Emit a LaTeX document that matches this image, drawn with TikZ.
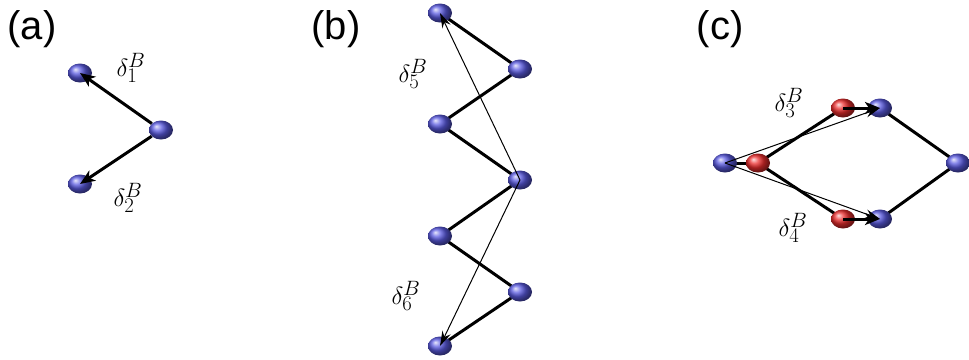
\documentclass[tikz,border=0pt]{standalone}
\usepackage{fontspec}
\newfontfamily\panelfont{Liberation Sans}
\usetikzlibrary{shapes.geometric,arrows.meta}
\pgfdeclarelayer{background}
\pgfsetlayers{background,main}
\definecolor{bluenode}{RGB}{90,90,225}
\definecolor{rednode}{RGB}{235,45,45}
\tikzset{
  atom/.style={ellipse, minimum width=24pt, minimum height=19pt, inner sep=0pt},
  batom/.style={atom, ball color=bluenode},
  ratom/.style={atom, ball color=rednode},
  bond/.style={line width=3pt},
  bigarrow/.style={line width=3pt, -{Stealth[length=15pt,width=12pt,inset=4pt]}},
  thinarrow/.style={line width=1pt, -{Stealth[length=15pt,width=9pt,inset=5pt]}},
  panel/.style={font=\panelfont\fontsize{40}{46}\selectfont},
  dlabel/.style={font=\fontsize{31}{36}\selectfont}
}
\begin{document}
\begin{tikzpicture}[x=1pt,y=-1pt]
\useasboundingbox (0,0) rectangle (969,359);
% panel labels
\node[panel] (la) at (32,29) {(a)};
\node[panel] (lb) at (336,29) {(b)};
\node[panel] (lc) at (720,29) {(c)};
% (a)
\node[batom] (a1) at (80,73) {};
\node[batom] (a0) at (161,130) {};
\node[batom] (a2) at (80,184) {};
\draw[bigarrow] (a0) -- (a1.center);
\draw[bigarrow] (a0) -- (a2.center);
\node[dlabel] (d1) at (131,68) {$\delta_1^B$};
\node[dlabel] (d2) at (128,198) {$\delta_2^B$};
% (b)
\node[batom] (b1) at (440,13) {};
\node[batom] (b2) at (520,69) {};
\node[batom] (b3) at (440,124) {};
\node[batom] (b4) at (520,180) {};
\node[batom] (b5) at (440,236) {};
\node[batom] (b6) at (520,292) {};
\node[batom] (b7) at (440,346) {};
\begin{pgfonlayer}{background}
\draw[bond] (b1.center) -- (b2.center) -- (b3.center) -- (b4.center) -- (b5.center) -- (b6.center) -- (b7.center);
\end{pgfonlayer}
\draw[thinarrow] (b4.center) -- (b1.center);
\draw[thinarrow] (b4.center) -- (b7.center);
\node[dlabel] (d5) at (413,74) {$\delta_5^B$};
\node[dlabel] (d6) at (406,296) {$\delta_6^B$};
% (c)
\node[batom] (c0) at (725,163) {};
\node[ratom] (c1) at (758,163) {};
\node[ratom] (c2) at (843,108) {};
\node[batom] (c3) at (880,108) {};
\node[batom] (c4) at (958,163) {};
\node[ratom] (c5) at (843,219) {};
\node[batom] (c6) at (880,219) {};
\begin{pgfonlayer}{background}
\draw[bond] (c0.center) -- (c1.center);
\draw[bond] (c1.center) -- (c2.center);
\draw[bond] (c1.center) -- (c5.center);
\draw[bond] (c3.center) -- (c4.center) -- (c6.center);
\end{pgfonlayer}
\draw[bigarrow] (c2.center) -- (c3.center);
\draw[bigarrow] (c5.center) -- (c6.center);
\draw[thinarrow] (c0.center) -- (c3.center);
\draw[thinarrow] (c0.center) -- (c6.center);
\node[dlabel] (d3) at (789,103) {$\delta_3^B$};
\node[dlabel] (d4) at (793,228) {$\delta_4^B$};
\end{tikzpicture}
\end{document}
